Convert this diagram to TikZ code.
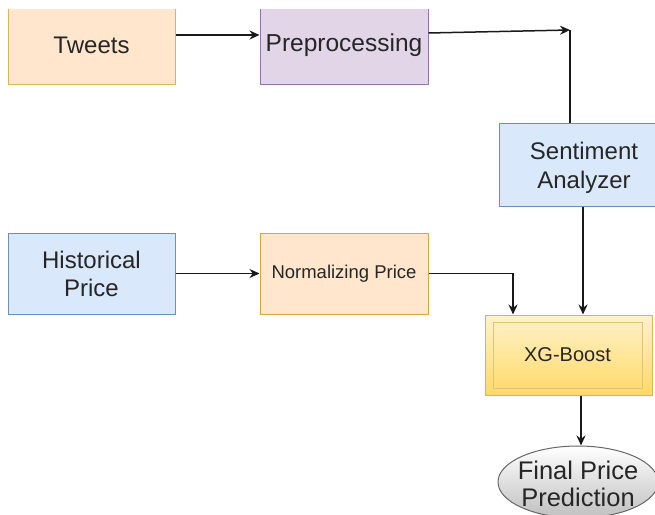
\documentclass[tikz,border=0pt]{standalone}
\usepackage{fontspec}
\setmainfont{Liberation Sans}
\usetikzlibrary{arrows.meta,shapes.geometric,shadings}
\definecolor{peachF}{HTML}{FFE6CC}
\definecolor{peachD}{HTML}{D6B656}
\definecolor{orangeD}{HTML}{D9A441}
\definecolor{purpF}{HTML}{E1D5E7}
\definecolor{purpD}{HTML}{9673A6}
\definecolor{blueF}{HTML}{DAE8FC}
\definecolor{blueD}{HTML}{6C8EBF}
\definecolor{yelTop}{HTML}{FFF2CC}
\definecolor{yelBot}{HTML}{FFD966}
\definecolor{txt}{HTML}{262626}
\tikzset{
  box/.style={rectangle, line width=1pt, text=txt, align=center, inner sep=0pt},
  peachbox/.style={box, fill=peachF, draw=peachD},
  orangebox/.style={box, fill=peachF, draw=orangeD},
  purpbox/.style={box, fill=purpF, draw=purpD},
  bluebox/.style={box, fill=blueF, draw=blueD},
  lbl/.style={text=txt, align=center, inner sep=0pt},
  conn/.style={line width=1.5pt, draw=black!90},
  arr/.style={conn, -{Stealth[length=10pt,width=9pt]}},
}
\begin{document}
\begin{tikzpicture}[x=1pt,y=-1pt]
\useasboundingbox (0,0) rectangle (655,514);
\begin{scope}
\clip (0,0) rectangle (655,514);
% top row
\node[peachbox, minimum width=167pt, minimum height=77pt, font=\fontsize{24}{28}\selectfont] (tw) at (91.5,45.5) {Tweets};
\node[purpbox, minimum width=168pt, minimum height=77pt, font=\fontsize{24.5}{28}\selectfont] (pre) at (344,45.5) {Preprocessing};
\fill[white] (0,0) rectangle (655,9);
% sentiment
\node[bluebox, minimum width=170pt, minimum height=83pt] (sa) at (584,164.5) {};
\node[lbl, font=\fontsize{24}{29}\selectfont] (satext) at ([yshift=-3.5pt]sa.center) {Sentiment\\Analyzer};
% second row
\node[bluebox, minimum width=167pt, minimum height=81pt, font=\fontsize{24}{28}\selectfont] (hp) at (91.5,273.5) {Historical\\Price};
\node[orangebox, minimum width=168pt, minimum height=81pt, font=\fontsize{18.5}{22}\selectfont] (np) at (344,273.5) {Normalizing Price};
% xg-boost
\node[box, draw=peachD, top color=yelTop, bottom color=yelBot, minimum width=167pt, minimum height=80pt] (xg) at (568.5,355) {};
\node[box, draw=peachD!80, line width=0.8pt, minimum width=149pt, minimum height=66pt, font=\fontsize{20}{24}\selectfont] (xgi) at (567.5,355) {XG-Boost};
% final
\node[ellipse, draw=black!60, line width=1pt, top color=white, bottom color=black!25, minimum width=160pt, minimum height=72pt, inner sep=0pt] (fp) at (578,482) {};
\node[lbl, font=\fontsize{25.5}{27}\selectfont] (fptext) at ([yshift=-2pt]fp.center) {Final Price\\Prediction};
% connectors
\coordinate (corner) at (570,30);
\draw[arr] ([yshift=10.5pt]tw.east) -- ([yshift=10.5pt]pre.west);
\draw[arr] ([yshift=12.5pt]pre.east) -- (corner);
\draw[conn] (corner) -- (sa.north -| corner);
\draw[arr] (sa.south -| 583,0) -- (xg.north -| 583,0);
\draw[arr] (np.east) -| (xg.north -| 513,0);
\draw[arr] (hp.east) -- (np.west);
\draw[arr] (xg.south -| 581,0) -- (fp.north -| 581,0);
\end{scope}
\end{tikzpicture}
\end{document}
